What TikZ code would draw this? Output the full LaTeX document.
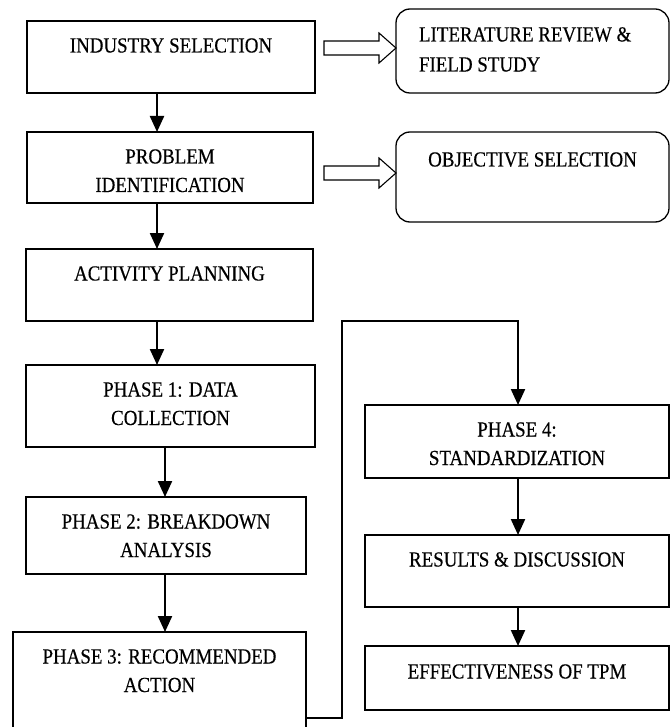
\documentclass[tikz,border=0pt]{standalone}
\usepackage{fontspec}
\setmainfont{Liberation Serif}[FakeStretch=0.88,FakeBold=0.4]
\usetikzlibrary{arrows.meta,calc}
\newcommand\bxt[3]{\parbox[c][#2pt][t]{#1pt}{\centering\fontsize{21.5}{28.5}\selectfont\rule{0pt}{31.5pt}#3\par}}
\newcommand\bxl[3]{\parbox[c][#2pt][t]{#1pt}{\raggedright\leftskip=23pt\fontsize{21.5}{30}\selectfont\rule{0pt}{32.5pt}#3\par}}
\begin{document}
\begin{tikzpicture}[x=1pt,y=-1pt,
  stepbox/.style={draw=black,line width=1.6pt,rectangle,inner sep=0pt,outer sep=0pt},
  roundbox/.style={draw=black,line width=1.3pt,rectangle,rounded corners=14pt,inner sep=0pt,outer sep=0pt},
  arr/.style={line width=2.2pt,-{Triangle[length=16pt,width=14pt]}},
  loopline/.style={line width=1.6pt},
  hollow/.style={draw=black,line width=1.1pt,fill=white,line join=miter}]
\useasboundingbox (0,0) rectangle (670,727);
\clip (0,0) rectangle (670,727);
\fill[white] (0,0) rectangle (670,727);
% left column
\node[stepbox] (ind) at (171,57) {\bxt{288}{72}{INDUSTRY SELECTION}};
\node[stepbox] (prob) at (170,167.5) {\bxt{286}{71}{PROBLEM\\IDENTIFICATION}};
\node[stepbox] (act) at (169.5,285) {\bxt{287}{72}{ACTIVITY PLANNING}};
\node[stepbox] (ph1) at (170.5,406) {\bxt{289}{82}{PHASE 1: DATA\\COLLECTION}};
\node[stepbox] (ph2) at (166,535.5) {\bxt{280}{77}{PHASE 2: BREAKDOWN\\ANALYSIS}};
\node[stepbox] (ph3) at (159.5,696) {\bxt{293}{128}{PHASE 3: RECOMMENDED\\ACTION}};
% right column
\node[roundbox] (lit) at (532.5,51) {\bxl{273}{84}{LITERATURE REVIEW \&\\FIELD STUDY}};
\node[roundbox] (obj) at (532.5,177) {\bxt{273}{90}{\rule{0pt}{34.5pt}OBJECTIVE SELECTION}};
\node[stepbox] (ph4) at (517,441.5) {\bxt{304}{73}{PHASE 4:\\STANDARDIZATION}};
\node[stepbox] (res) at (517,571) {\bxt{304}{72}{RESULTS \& DISCUSSION}};
\node[stepbox] (eff) at (517,678) {\bxt{304}{64}{\rule{0pt}{32.5pt}EFFECTIVENESS OF TPM}};
% guide coordinates
\coordinate (xa) at (157,0);
\coordinate (xb) at (165,0);
\coordinate (xc) at (518,0);
\coordinate (xl) at (342,0);
\coordinate (yl) at (0,718);
\coordinate (yt) at (0,321);
\coordinate (h1) at (0,48);
\coordinate (h2) at (0,173);
% vertical arrows
\draw[arr] (ind.south -| xa) -- (prob.north -| xa);
\draw[arr] (prob.south -| xa) -- (act.north -| xa);
\draw[arr] (act.south -| xa) -- (ph1.north -| xa);
\draw[arr] (ph1.south -| xb) -- (ph2.north -| xb);
\draw[arr] (ph2.south -| xb) -- (ph3.north -| xb);
\draw[arr] (ph4.south -| xc) -- (res.north -| xc);
\draw[arr] (res.south -| xc) -- (eff.north -| xc);
% loop from phase 3 to phase 4
\coordinate (l1) at (ph3.east |- yl);
\draw[loopline] (l1) -- (xl |- yl) -- (xl |- yt) -- (xc |- yt);
\draw[arr] ($(xc |- yt)+(0,-0.8)$) -- (ph4.north -| xc);
% hollow block arrows
\coordinate (t1) at (lit.west |- h1);
\coordinate (t2) at (obj.west |- h2);
\draw[hollow] (t1) -- ++(-17,-15) -- ++(0,8) -- ++(-55,0) -- ++(0,14) -- ++(55,0) -- ++(0,8) -- cycle;
\draw[hollow] (t2) -- ++(-17,-15) -- ++(0,8) -- ++(-55,0) -- ++(0,14) -- ++(55,0) -- ++(0,8) -- cycle;
\end{tikzpicture}
\end{document}
